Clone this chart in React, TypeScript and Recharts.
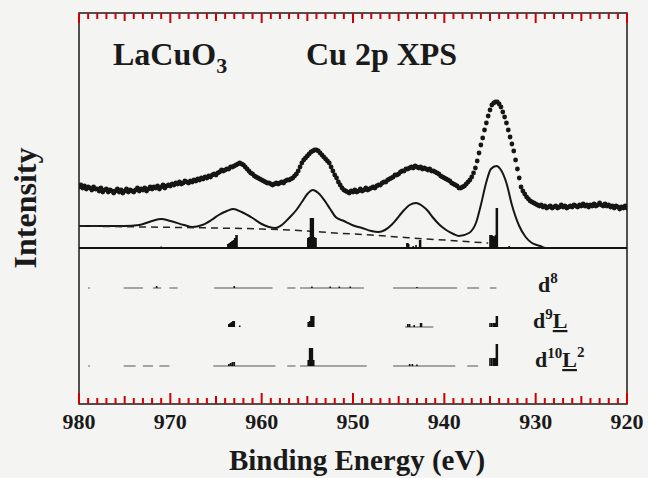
import React from 'react';
import { ComposedChart, Line, XAxis, YAxis, ReferenceArea, ReferenceLine } from 'recharts';

// Experimental Cu 2p XPS data: 0.2 eV grid from 980 eV down to 920 eV
const energyStart = 980;
const energyStep = 0.2;
const expIntensity = [
  217, 219, 216, 218, 215, 217, 216, 214, 217, 215,
  215, 213, 216, 212, 214, 215, 212, 214, 213, 211,
  213, 215, 212, 214, 211, 213, 215, 212, 214, 213,
  212, 214, 216, 213, 215, 214, 216, 213, 215, 217,
  215, 217, 216, 218, 215, 217, 219, 216, 218, 219,
  218, 220, 219, 221, 220, 222, 220, 221, 223, 222,
  221, 223, 222, 224, 223, 225, 224, 226, 225, 227,
  226, 228, 227, 229, 230, 229, 231, 232, 234, 233,
  234, 235, 235, 237, 237, 238, 239, 240, 241, 240,
  239, 237, 235, 233, 231, 230, 228, 227, 226, 225,
  224, 223, 222, 221, 221, 220, 219, 220, 221, 220,
  221, 222, 221, 223, 224, 224, 225, 226, 228, 230,
  233, 237, 241, 244, 246, 248, 250, 252, 253, 254,
  254, 253, 251, 249, 247, 245, 243, 241, 237, 233,
  229, 226, 222, 219, 216, 214, 213, 212, 211, 213,
  212, 214, 212, 213, 215, 213, 214, 216, 214, 215,
  216, 217, 216, 218, 219, 219, 221, 222, 222, 224,
  225, 226, 227, 229, 229, 230, 232, 233, 233, 235,
  235, 236, 237, 236, 238, 237, 236, 237, 235, 236,
  235, 234, 235, 233, 233, 232, 231, 230, 228, 227,
  226, 225, 224, 223, 221, 220, 219, 218, 216, 216,
  217, 218, 220, 222, 224, 227, 231, 236, 243, 251,
  259, 266, 274, 281, 288, 294, 299, 301, 302, 302,
  300, 297, 292, 287, 281, 274, 267, 260, 253, 244,
  235, 226, 217, 213, 210, 207, 205, 203, 202, 201,
  200, 199, 198, 199, 197, 198, 196, 197, 198, 196,
  197, 198, 196, 197, 199, 197, 198, 196, 197, 198,
  197, 199, 198, 197, 199, 198, 200, 198, 199, 197,
  199, 198, 200, 198, 199, 201, 199, 198, 200, 198,
  199, 197, 198, 196, 198, 197, 195, 197, 196, 198,
  196,
];

// Calculated spectrum (solid line)
const fitEnergy = [
  980, 975, 973.4, 972, 971, 970, 968.5, 967.6, 966.5, 965.5,
  964.7, 963.8, 963.1, 962.2, 961, 960, 959.2, 958.5, 957.8, 957,
  956.2, 955.6, 955, 954.4, 953.8, 953, 952.5, 951.9, 951, 950.1,
  949, 948, 947.2, 946.5, 945.8, 945.3, 944.5, 943.8, 943.1, 942.4,
  941.8, 941.3, 940.5, 939.8, 939, 938.4, 937.3, 936.5, 936.0, 935.4,
  934.9, 934.3, 933.8, 933.2, 932.6, 931.8, 931.1, 930.4, 929.5, 928.9,
  920,
];
const fitIntensity = [
  178, 178, 179, 183, 185, 183, 179, 177, 179, 184,
  189, 193, 195, 192, 186, 180, 177, 176, 179, 186,
  194, 202, 210, 214, 211, 202, 195, 187, 183, 179,
  176, 173, 172, 174, 179, 184, 193, 199, 201, 198,
  193, 187, 179, 174, 170, 168, 171, 182, 199, 222,
  235, 238, 234, 221, 199, 178, 167, 161, 158, 156,
  156,
];

// Background (dashed line)
const bgEnergy = [980, 973, 965, 960, 955, 952, 948, 945, 942, 940, 937, 935.2];
const bgIntensity = [178, 177, 176, 175, 173, 171, 169, 167, 165, 164, 162, 161];

// Axis ticks and labels
const xMin = 920;
const xMax = 980;
const majorTickLabels = [980, 970, 960, 950, 940, 930, 920];
const tickValues = Array.from({ length: 61 }, (_, i) => 920 + i);
const yTop = 391;

// Stick spectra: baselines, baseline segments [from, to] and sticks [energy, height]
const mainBase = 156;
const mainSegments: [number, number][] = [[980, 920]];
const mainSticks: [number, number][] = [
  [971.6, 1], [971.0, 1.5], [970.4, 1],
  [963.7, 4], [963.55, 5], [963.4, 6], [963.25, 7], [963.1, 8], [962.95, 10], [962.8, 13], [962.7, 13],
  [954.95, 10], [954.8, 11], [954.65, 30], [954.5, 30], [954.35, 30], [954.2, 11], [954.05, 10],
  [944.1, 5], [944.0, 5], [943.9, 4], [943.4, 2], [943.1, 3], [942.7, 8], [942.6, 8],
  [935.0, 13], [934.9, 13], [934.8, 13], [934.7, 12], [934.6, 12], [934.5, 11], [934.4, 13], [934.3, 40], [934.2, 40],
  [932.9, 2],
];

const d8Base = 116;
const d8Segments: [number, number][] = [
  [979.0, 978.8], [975.1, 973.0], [971.9, 971.0], [970.1, 969.2], [965.2, 958.8],
  [957.2, 956.3], [955.8, 948.8], [945.6, 938.6], [937.5, 936.2], [935.0, 934.3],
];
const d8Sticks: [number, number][] = [
  [971.5, 2], [963.0, 2], [954.5, 1.5], [952.5, 1.5], [951.5, 1.5], [950.3, 1.5], [943.0, 1],
];

const d9Base = 77;
const d9Segments: [number, number][] = [[944.3, 941.2]];
const d9Sticks: [number, number][] = [
  [963.6, 3], [963.45, 4], [963.3, 5], [963.15, 6], [963.0, 6], [962.4, 1.5],
  [954.9, 5], [954.75, 6], [954.6, 11], [954.45, 11], [954.3, 11],
  [944.0, 3], [943.8, 3], [943.3, 2], [942.6, 4], [942.5, 4],
  [935.0, 4], [934.8, 4], [934.6, 4], [934.45, 4], [934.3, 11], [934.2, 11],
];

const d10Base = 38;
const d10Segments: [number, number][] = [
  [979.0, 978.8], [975.1, 973.8], [973.0, 971.9], [971.2, 970.1], [965.3, 958.5],
  [957.2, 956.3], [955.8, 948.5], [945.6, 938.8], [937.5, 936.3],
];
const d10Sticks: [number, number][] = [
  [963.6, 2], [963.4, 3], [963.2, 4], [963.0, 4],
  [954.9, 6], [954.75, 18], [954.6, 18], [954.45, 18], [954.3, 6],
  [943.8, 2], [943.5, 2], [943.0, 1.5],
  [935.0, 8], [934.8, 8], [934.6, 8], [934.45, 8], [934.3, 22], [934.2, 22],
];

type Pt = { E: number; v: number | null };

const expData: Pt[] = expIntensity.map((v, i) => ({ E: +(energyStart - i * energyStep).toFixed(2), v }));
const fitData: Pt[] = fitEnergy.map((E, i) => ({ E, v: fitIntensity[i] }));
const bgData: Pt[] = bgEnergy.map((E, i) => ({ E, v: bgIntensity[i] }));

function segmentPoints(base: number, segs: [number, number][]): Pt[] {
  const pts: Pt[] = [];
  segs.forEach(([a, b]) => {
    pts.push({ E: a, v: base }, { E: b, v: base }, { E: b, v: null });
  });
  return pts;
}
function stickPoints(base: number, sticks: [number, number][]): Pt[] {
  const pts: Pt[] = [];
  sticks.forEach(([e, h]) => {
    pts.push({ E: e, v: base }, { E: e, v: base + h }, { E: e, v: null });
  });
  return pts;
}

// inward tick marks (major 10 eV, medium 5 eV, minor 1 eV)
const tickLen = (v: number, major: number) => (v % 10 === 0 ? major : v % 5 === 0 ? 8 : 6);

const rows = [
  { id: 'main', base: mainBase, segs: mainSegments, sticks: mainSticks, segColor: '#141414', segWidth: 2 },
  { id: 'd8', base: d8Base, segs: d8Segments, sticks: d8Sticks, segColor: '#555', segWidth: 1 },
  { id: 'd9', base: d9Base, segs: d9Segments, sticks: d9Sticks, segColor: '#555', segWidth: 1 },
  { id: 'd10', base: d10Base, segs: d10Segments, sticks: d10Sticks, segColor: '#555', segWidth: 1 },
];

const FONT = '"Liberation Serif", "Times New Roman", Times, serif';
const INK = '#1a1a1a';
const TICK = '#d00000';

const BottomLabel = (props: any) => {
  const { x, y, payload } = props;
  const val = Number(payload.value);
  return (
    <text x={x} y={y + 25} textAnchor="middle" fontSize={22} fontWeight="bold" fontFamily={FONT} fill={INK}>
      {val}
    </text>
  );
};

export default function App() {
  return (
    <div style={{ position: 'relative', width: 648, height: 478, background: '#f4f4f2' }}>
      <style>{'html,body{margin:0;padding:0;background:#f4f4f2;overflow:hidden}'}</style>
      <ComposedChart width={648} height={478} margin={{ top: 13, right: 21, bottom: 44, left: 79 }}>
        <XAxis
          xAxisId="b"
          type="number"
          dataKey="E"
          domain={[xMin, xMax]}
          reversed
          allowDataOverflow
          ticks={majorTickLabels}
          interval={0}
          tick={BottomLabel}
          tickLine={false}
          tickSize={0}
          tickMargin={0}
          axisLine={false}
          height={30}
        />
        <YAxis yAxisId="y" type="number" domain={[0, yTop]} allowDataOverflow hide />
        {tickValues.map((t) => (
          <ReferenceLine
            key={'tb' + t}
            xAxisId="b"
            yAxisId="y"
            segment={[{ x: t, y: 0 }, { x: t, y: tickLen(t, 11) }]}
            stroke={TICK}
            strokeWidth={2}
            ifOverflow="visible"
          />
        ))}
        {tickValues.map((t) => (
          <ReferenceLine
            key={'tt' + t}
            xAxisId="b"
            yAxisId="y"
            segment={[{ x: t, y: yTop }, { x: t, y: yTop - tickLen(t, 10) }]}
            stroke={TICK}
            strokeWidth={2}
            ifOverflow="visible"
          />
        ))}
        <Line
          xAxisId="b"
          yAxisId="y"
          data={expData}
          dataKey="v"
          stroke="none"
          dot={{ r: 2.4, fill: '#161616', stroke: 'none' }}
          activeDot={false}
          isAnimationActive={false}
        />
        <Line
          xAxisId="b"
          yAxisId="y"
          data={fitData}
          dataKey="v"
          type="monotone"
          stroke="#161616"
          strokeWidth={2}
          dot={false}
          activeDot={false}
          isAnimationActive={false}
        />
        <Line
          xAxisId="b"
          yAxisId="y"
          data={bgData}
          dataKey="v"
          type="monotone"
          stroke="#222"
          strokeWidth={1.5}
          strokeDasharray="7 5"
          dot={false}
          activeDot={false}
          isAnimationActive={false}
        />
        {rows.map((r) => (
          <Line
            key={r.id + '-seg'}
            xAxisId="b"
            yAxisId="y"
            data={segmentPoints(r.base, r.segs)}
            dataKey="v"
            type="linear"
            stroke={r.segColor}
            strokeWidth={r.segWidth}
            connectNulls={false}
            dot={false}
            activeDot={false}
            isAnimationActive={false}
          />
        ))}
        {rows.map((r) => (
          <Line
            key={r.id + '-stick'}
            xAxisId="b"
            yAxisId="y"
            data={stickPoints(r.base, r.sticks)}
            dataKey="v"
            type="linear"
            stroke="#111"
            strokeWidth={1.6}
            connectNulls={false}
            dot={false}
            activeDot={false}
            isAnimationActive={false}
          />
        ))}
        <ReferenceArea
          xAxisId="b"
          yAxisId="y"
          x1={xMin}
          x2={xMax}
          y1={0}
          y2={yTop}
          fill="none"
          stroke={INK}
          strokeWidth={1.5}
          ifOverflow="visible"
        />
      </ComposedChart>
      <svg
        width={648}
        height={478}
        style={{ position: 'absolute', left: 0, top: 0, pointerEvents: 'none' }}
        fontFamily={FONT}
        fill={INK}
      >
        <text x={113} y={65} fontSize={32} fontWeight="bold">
          LaCuO<tspan fontSize={22} dy={8}>3</tspan>
        </text>
        <text x={306} y={65} fontSize={32} fontWeight="bold">
          Cu 2p XPS
        </text>
        <text transform="translate(36,208) rotate(-90)" textAnchor="middle" fontSize={32} fontWeight="bold">
          Intensity
        </text>
        <text x={357} y={470} textAnchor="middle" fontSize={29} fontWeight="bold">
          Binding Energy (eV)
        </text>
        <text x={538} y={292} fontSize={22} fontWeight="bold">
          d<tspan fontSize={15} dy={-9}>8</tspan>
        </text>
        <text x={533} y={328} fontSize={22} fontWeight="bold">
          d<tspan fontSize={15} dy={-9}>9</tspan>
          <tspan dy={9} textDecoration="underline">L</tspan>
        </text>
        <text x={535} y={367} fontSize={22} fontWeight="bold">
          d<tspan fontSize={15} dy={-9}>10</tspan>
          <tspan dy={9} textDecoration="underline">L</tspan>
          <tspan fontSize={15} dy={-10}>2</tspan>
        </text>
      </svg>
    </div>
  );
}
